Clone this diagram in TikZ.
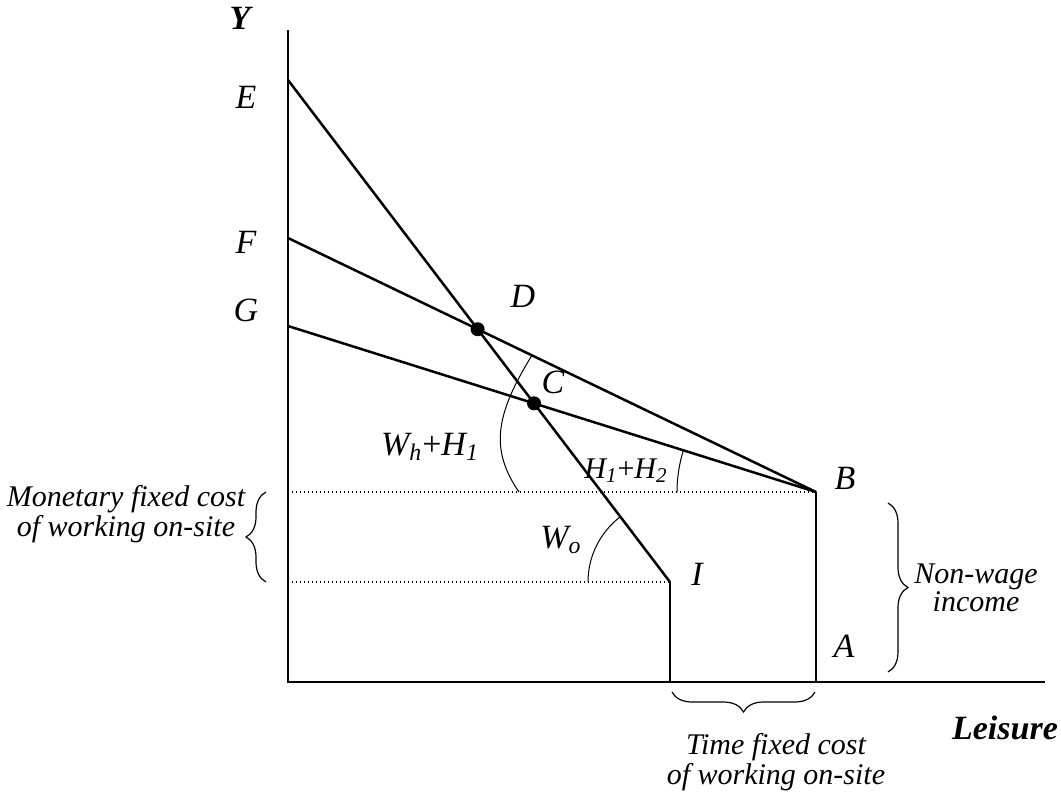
\documentclass[tikz,border=0pt]{standalone}
\usepackage{fontspec}
\setmainfont{Liberation Serif}
\usetikzlibrary{decorations.pathreplacing, calc}

\begin{document}
\begin{tikzpicture}[x=0.5pt, y=-0.5pt,
    lbl/.style={font=\fontsize{15}{13}\selectfont\itshape, inner sep=0pt, align=center},
    pt/.style={font=\fontsize{17}{17}\selectfont\itshape, inner sep=0pt},
    axislbl/.style={font=\fontsize{17}{17}\selectfont\bfseries\itshape, inner sep=0pt},
    budget/.style={line width=1.25pt},
    axis/.style={line width=0.7pt},
    guide/.style={line width=0.6pt, dash pattern=on 0.6pt off 1.4pt},
    marker/.style={line width=0.5pt},
    curly/.style={decorate, decoration={brace, amplitude=10pt}, line width=0.6pt},
    dot/.style={circle, fill, inner sep=0pt, minimum size=7pt}
]
\useasboundingbox (0,0) rectangle (1061,793);

% Points
\coordinate (O) at (288,682);
\coordinate (ytop) at (288,30);
\coordinate (xend) at (1045,682);
\coordinate (E) at (288,80);
\coordinate (F) at (288,238);
\coordinate (G) at (288,326);
\coordinate (B) at (816,492);
\coordinate (I) at (670,582);
\coordinate (A) at (816,682);
\coordinate (Ibase) at (670,682);
\coordinate (Bleft) at (288,492);
\coordinate (Ileft) at (288,582);
\coordinate (D) at (intersection of E--I and F--B);
\coordinate (C) at (intersection of E--I and G--B);

% Axes
\draw[axis] (ytop) -- (O) -- (xend);
\node (ylabel) [axislbl] at (240,18) {Y};
\node (leisure) [axislbl] at (1005,728) {Leisure};

% Guides
\draw[guide] (Bleft) -- (B);
\draw[guide] (Ileft) -- (I);
\draw[axis] (I) -- (Ibase);
\draw[axis] (B) -- (A);

% Budget lines
\draw[budget] (E) -- (I);
\draw[budget] (F) -- (B);
\draw[budget] (G) -- (B);
\node (Ddot) [dot] at (D) {};
\node (Cdot) [dot] at (C) {};

% Angle markers
\draw[marker] (B) ++(180:139) arc[start angle=180, end angle=197.45, radius=139];
\draw[marker] (I) ++(180:82) arc[start angle=180, end angle=232.7, radius=82];
\draw[marker] ($(F)!0.462!(B)$) .. controls (495,415) and (490,450) .. (519,492);

% Point labels
\node (Elabel) [pt] at (246,97) {E};
\node (Flabel) [pt] at (246,242) {F};
\node (Glabel) [pt] at (246,310) {G};
\node (Dlabel) [pt] at (523,296) {D};
\node (Clabel) [pt] at (553,382) {C};
\node (Blabel) [pt] at (845,478) {B};
\node (Ilabel) [pt] at (697,574) {I};
\node (Alabel) [pt] at (844,646) {A};

% Slope labels
\node (whlabel) [pt] at (430,447) {W\textsubscript{h}\textup{+}H\textsubscript{1}};
\node (hhlabel) [lbl] at (626,471) {H\textsubscript{1}\textup{+}H\textsubscript{2}};
\node (wolabel) [pt] at (561,540) {W\textsubscript{o}};

% Braces
\draw[curly] (266,582) -- (266,492);
\draw[curly] (888,503) -- (888,672);
\draw[curly] (815,692) -- (672,692);
\node (money) [lbl] at (126,514) {Monetary fixed cost\\of working on-site};
\node (nonwage) [lbl] at (976,588) {Non-wage\\income};
\node (timecost) [lbl] at (776,762) {Time fixed cost\\of working on-site};

\end{tikzpicture}
\end{document}
